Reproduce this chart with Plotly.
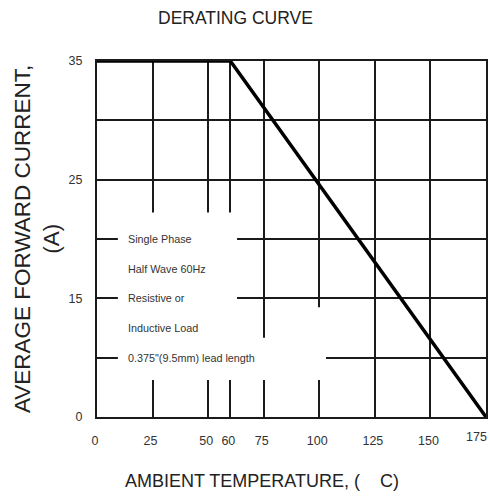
import plotly.graph_objects as go

# ---- data ----
temp_c = [0, 60, 175]            # ambient temperature (°C)
current_a = [35, 35, 0]          # average forward current (A)
x_tick_values = [0, 25, 50, 60, 75, 100, 125, 150, 175]
x_tick_labels = ["0", "25", "50", "60", "75", "100", "125", "150", "175"]
y_tick_labels = ["0", "", "15", "", "25", "", "35"]   # equally spaced grid rows
note_lines = ["Single Phase", "Half Wave 60Hz", "Resistive or",
              "Inductive Load", "0.375\"(9.5mm) lead length"]

YMAX = 35
n_rows = len(y_tick_labels) - 1
y_step = YMAX / n_rows
y_tick_values = [i * y_step for i in range(len(y_tick_labels))]

FONT = "Liberation Sans, Arial, sans-serif"
INK = "#1a1a1a"
TICKFONT = dict(family=FONT, size=12.5, color="#333333")

fig = go.Figure()
fig.add_trace(go.Scatter(
    x=temp_c, y=current_a, mode="lines",
    line=dict(color="#000000", width=3.5),
    cliponaxis=False, hoverinfo="skip", showlegend=False,
))

# white panel behind the note text (interrupts the grid)
panel = [
    (9.4, 63, 3.64, 20.1),
    (63, 103, 3.64, 7.8),
    (80, 103, 3.64, 10.8),
]
for x0, x1, y0, y1 in panel:
    fig.add_shape(type="rect", xref="x", yref="y", x0=x0, x1=x1, y0=y0, y1=y1,
                  fillcolor="white", line=dict(width=0), layer="between")

# note text
for i, t in enumerate(note_lines):
    fig.add_annotation(x=13, y=(3 - 0.5 * i) * y_step, xref="x", yref="y",
                       text=t, showarrow=False, xanchor="left", yanchor="middle",
                       font=dict(family=FONT, size=10.8, color="#333333"))

# last x tick label kept inside the page (right-aligned at its tick)
fig.add_annotation(x=x_tick_values[-1], y=0, xref="x", yref="paper",
                   text=x_tick_labels[-1], showarrow=False,
                   xanchor="right", yanchor="top", xshift=3, yshift=-11,
                   font=TICKFONT)

# title
fig.add_annotation(x=(235 - 97) / 389, y=(417 - 18) / 356, xref="paper", yref="paper",
                   text="DERATING CURVE", showarrow=False,
                   xanchor="center", yanchor="middle",
                   font=dict(family=FONT, size=17.5, color="#222222"))
# x title
fig.add_annotation(x=(262 - 97) / 389, y=(417 - 481) / 356, xref="paper", yref="paper",
                   text="AMBIENT TEMPERATURE, (\u00a0\u00a0\u00a0\u00a0C)", showarrow=False,
                   xanchor="center", yanchor="middle",
                   font=dict(family=FONT, size=18, color="#222222"))
# y title
fig.add_annotation(x=(37 - 97) / 389, y=0.5, xref="paper", yref="paper",
                   text="AVERAGE FORWARD CURRENT,<br>(A)", showarrow=False,
                   textangle=-90, xanchor="center", yanchor="middle",
                   font=dict(family=FONT, size=22.5, color="#222222"))

fig.update_xaxes(
    range=[0, 175], tickmode="array", tickvals=x_tick_values,
    ticktext=x_tick_labels[:-1] + [""],
    showgrid=True, gridcolor=INK, gridwidth=1.5, zeroline=False,
    showline=True, linecolor=INK, linewidth=2, mirror=True,
    ticks="", ticklabelstandoff=11, ticklabelshift=-2, automargin=False,
    tickfont=TICKFONT, fixedrange=True,
)
fig.update_yaxes(
    range=[0, YMAX], tickmode="array", tickvals=y_tick_values, ticktext=y_tick_labels,
    showgrid=True, gridcolor=INK, gridwidth=1.5, zeroline=False,
    showline=True, linecolor=INK, linewidth=2, mirror=True,
    ticks="", ticklabelstandoff=10, automargin=False,
    tickfont=TICKFONT, fixedrange=True,
)
fig.update_layout(
    width=490, height=498,
    margin=dict(l=97, r=4, t=61, b=81),
    paper_bgcolor="white", plot_bgcolor="white",
    showlegend=False,
)
fig.write_html("out.html", post_script="document.body.style.margin='0';",
               config={"displayModeBar": False})
